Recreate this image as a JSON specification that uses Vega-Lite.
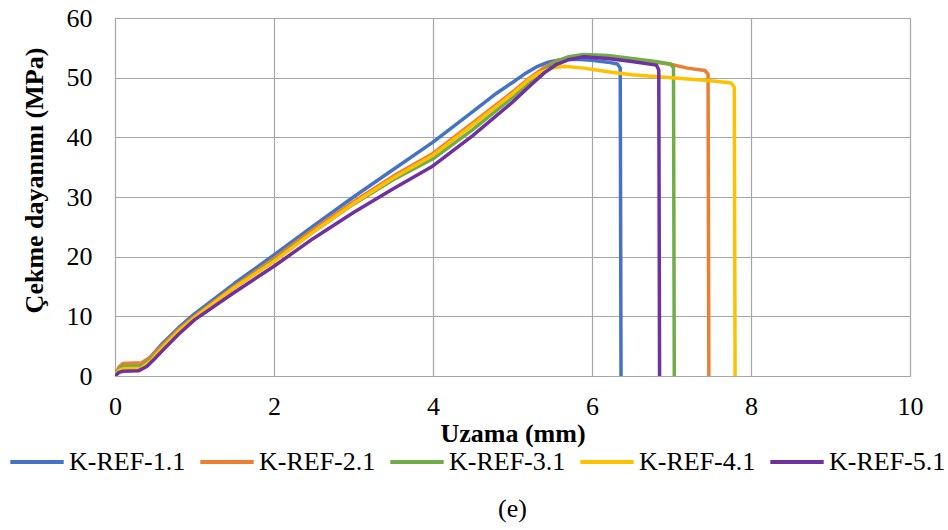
{
  "$schema": "https://vega.github.io/schema/vega-lite/v6.json",
  "width": 795,
  "height": 358,
  "autosize": {"type": "none"},
  "padding": {"left": 115, "top": 18, "right": 38, "bottom": 154},
  "background": "white",
  "title": {"text": "(e)", "orient": "bottom", "font": "Liberation Serif", "fontSize": 26, "fontWeight": "normal", "color": "#000000", "offset": 21, "anchor": "middle"},
  "config": {
    "view": {"stroke": "#A6A6A6", "strokeWidth": 1},
    "axis": {"labelFont": "Liberation Serif", "titleFont": "Liberation Serif", "labelFontSize": 26, "titleFontSize": 26, "labelColor": "#000000", "titleColor": "#000000", "gridColor": "#A6A6A6", "gridWidth": 1.2, "domainColor": "#A6A6A6", "ticks": false, "labelFlush": false, "labelOverlap": false}
  },
  "data": {"values": [
    {"s":"K-REF-1.1","x":0,"y":0},{"s":"K-REF-1.1","x":0.05,"y":1.0},{"s":"K-REF-1.1","x":0.1,"y":1.5},{"s":"K-REF-1.1","x":0.3,"y":1.6},{"s":"K-REF-1.1","x":0.4,"y":2.5},{"s":"K-REF-1.1","x":0.5,"y":4.0},{"s":"K-REF-1.1","x":0.6,"y":5.5},{"s":"K-REF-1.1","x":0.8,"y":8.1},{"s":"K-REF-1.1","x":1.0,"y":10.4},{"s":"K-REF-1.1","x":1.5,"y":15.5},{"s":"K-REF-1.1","x":2.0,"y":20.3},{"s":"K-REF-1.1","x":2.5,"y":25.2},{"s":"K-REF-1.1","x":3.0,"y":30.0},{"s":"K-REF-1.1","x":3.5,"y":34.6},{"s":"K-REF-1.1","x":4.0,"y":39.2},{"s":"K-REF-1.1","x":4.5,"y":44.3},{"s":"K-REF-1.1","x":4.8,"y":47.4},{"s":"K-REF-1.1","x":5.0,"y":49.2},{"s":"K-REF-1.1","x":5.15,"y":50.6},{"s":"K-REF-1.1","x":5.3,"y":51.8},{"s":"K-REF-1.1","x":5.45,"y":52.6},{"s":"K-REF-1.1","x":5.6,"y":53.0},{"s":"K-REF-1.1","x":5.8,"y":53.1},{"s":"K-REF-1.1","x":6.0,"y":52.9},{"s":"K-REF-1.1","x":6.2,"y":52.6},{"s":"K-REF-1.1","x":6.32,"y":52.3},{"s":"K-REF-1.1","x":6.355,"y":51.6},{"s":"K-REF-1.1","x":6.365,"y":0},
    {"s":"K-REF-2.1","x":0,"y":0},{"s":"K-REF-2.1","x":0.05,"y":1.5},{"s":"K-REF-2.1","x":0.1,"y":2.1},{"s":"K-REF-2.1","x":0.33,"y":2.2},{"s":"K-REF-2.1","x":0.45,"y":3.2},{"s":"K-REF-2.1","x":0.6,"y":5.2},{"s":"K-REF-2.1","x":0.8,"y":7.8},{"s":"K-REF-2.1","x":1.0,"y":10.0},{"s":"K-REF-2.1","x":1.5,"y":15.0},{"s":"K-REF-2.1","x":2.0,"y":19.7},{"s":"K-REF-2.1","x":2.5,"y":24.6},{"s":"K-REF-2.1","x":3.0,"y":29.2},{"s":"K-REF-2.1","x":3.5,"y":33.5},{"s":"K-REF-2.1","x":4.0,"y":37.3},{"s":"K-REF-2.1","x":4.5,"y":42.4},{"s":"K-REF-2.1","x":5.0,"y":47.6},{"s":"K-REF-2.1","x":5.2,"y":49.8},{"s":"K-REF-2.1","x":5.4,"y":51.7},{"s":"K-REF-2.1","x":5.55,"y":52.8},{"s":"K-REF-2.1","x":5.7,"y":53.4},{"s":"K-REF-2.1","x":5.9,"y":53.7},{"s":"K-REF-2.1","x":6.2,"y":53.4},{"s":"K-REF-2.1","x":6.5,"y":53.0},{"s":"K-REF-2.1","x":6.85,"y":52.5},{"s":"K-REF-2.1","x":7.0,"y":52.2},{"s":"K-REF-2.1","x":7.2,"y":51.6},{"s":"K-REF-2.1","x":7.42,"y":51.2},{"s":"K-REF-2.1","x":7.46,"y":50.6},{"s":"K-REF-2.1","x":7.47,"y":0},
    {"s":"K-REF-3.1","x":0,"y":0},{"s":"K-REF-3.1","x":0.05,"y":1.2},{"s":"K-REF-3.1","x":0.1,"y":1.6},{"s":"K-REF-3.1","x":0.33,"y":1.7},{"s":"K-REF-3.1","x":0.45,"y":2.8},{"s":"K-REF-3.1","x":0.6,"y":4.9},{"s":"K-REF-3.1","x":0.8,"y":7.6},{"s":"K-REF-3.1","x":1.0,"y":9.8},{"s":"K-REF-3.1","x":1.5,"y":14.8},{"s":"K-REF-3.1","x":2.0,"y":19.4},{"s":"K-REF-3.1","x":2.5,"y":24.2},{"s":"K-REF-3.1","x":3.0,"y":28.8},{"s":"K-REF-3.1","x":3.5,"y":32.9},{"s":"K-REF-3.1","x":4.0,"y":36.4},{"s":"K-REF-3.1","x":4.5,"y":41.3},{"s":"K-REF-3.1","x":5.0,"y":46.7},{"s":"K-REF-3.1","x":5.2,"y":49.0},{"s":"K-REF-3.1","x":5.4,"y":51.3},{"s":"K-REF-3.1","x":5.55,"y":52.7},{"s":"K-REF-3.1","x":5.7,"y":53.5},{"s":"K-REF-3.1","x":5.9,"y":53.9},{"s":"K-REF-3.1","x":6.2,"y":53.7},{"s":"K-REF-3.1","x":6.5,"y":53.2},{"s":"K-REF-3.1","x":6.8,"y":52.7},{"s":"K-REF-3.1","x":6.99,"y":52.3},{"s":"K-REF-3.1","x":7.025,"y":51.6},{"s":"K-REF-3.1","x":7.035,"y":0},
    {"s":"K-REF-4.1","x":0,"y":0},{"s":"K-REF-4.1","x":0.05,"y":0.9},{"s":"K-REF-4.1","x":0.1,"y":1.2},{"s":"K-REF-4.1","x":0.33,"y":1.3},{"s":"K-REF-4.1","x":0.45,"y":2.5},{"s":"K-REF-4.1","x":0.6,"y":4.8},{"s":"K-REF-4.1","x":0.8,"y":7.5},{"s":"K-REF-4.1","x":1.0,"y":9.8},{"s":"K-REF-4.1","x":1.5,"y":14.8},{"s":"K-REF-4.1","x":2.0,"y":19.2},{"s":"K-REF-4.1","x":2.5,"y":24.2},{"s":"K-REF-4.1","x":3.0,"y":28.9},{"s":"K-REF-4.1","x":3.5,"y":33.2},{"s":"K-REF-4.1","x":4.0,"y":37.0},{"s":"K-REF-4.1","x":4.5,"y":42.1},{"s":"K-REF-4.1","x":5.0,"y":47.3},{"s":"K-REF-4.1","x":5.2,"y":49.6},{"s":"K-REF-4.1","x":5.35,"y":50.9},{"s":"K-REF-4.1","x":5.5,"y":51.6},{"s":"K-REF-4.1","x":5.65,"y":51.9},{"s":"K-REF-4.1","x":5.9,"y":51.6},{"s":"K-REF-4.1","x":6.2,"y":51.0},{"s":"K-REF-4.1","x":6.5,"y":50.5},{"s":"K-REF-4.1","x":7.0,"y":50.0},{"s":"K-REF-4.1","x":7.5,"y":49.5},{"s":"K-REF-4.1","x":7.75,"y":49.1},{"s":"K-REF-4.1","x":7.79,"y":48.4},{"s":"K-REF-4.1","x":7.8,"y":0},
    {"s":"K-REF-5.1","x":0,"y":0},{"s":"K-REF-5.1","x":0.05,"y":0.6},{"s":"K-REF-5.1","x":0.1,"y":0.8},{"s":"K-REF-5.1","x":0.3,"y":0.9},{"s":"K-REF-5.1","x":0.4,"y":1.6},{"s":"K-REF-5.1","x":0.5,"y":2.9},{"s":"K-REF-5.1","x":0.6,"y":4.3},{"s":"K-REF-5.1","x":0.8,"y":7.0},{"s":"K-REF-5.1","x":1.0,"y":9.4},{"s":"K-REF-5.1","x":1.5,"y":14.0},{"s":"K-REF-5.1","x":2.0,"y":18.4},{"s":"K-REF-5.1","x":2.5,"y":23.1},{"s":"K-REF-5.1","x":3.0,"y":27.4},{"s":"K-REF-5.1","x":3.5,"y":31.4},{"s":"K-REF-5.1","x":4.0,"y":35.2},{"s":"K-REF-5.1","x":4.5,"y":40.3},{"s":"K-REF-5.1","x":5.0,"y":45.9},{"s":"K-REF-5.1","x":5.2,"y":48.4},{"s":"K-REF-5.1","x":5.4,"y":50.8},{"s":"K-REF-5.1","x":5.55,"y":52.2},{"s":"K-REF-5.1","x":5.7,"y":53.0},{"s":"K-REF-5.1","x":5.9,"y":53.5},{"s":"K-REF-5.1","x":6.2,"y":53.2},{"s":"K-REF-5.1","x":6.5,"y":52.7},{"s":"K-REF-5.1","x":6.81,"y":52.1},{"s":"K-REF-5.1","x":6.84,"y":51.3},{"s":"K-REF-5.1","x":6.85,"y":0}
  ]},
  "mark": {"type": "line", "strokeWidth": 3.5, "strokeCap": "round", "strokeJoin": "round", "clip": true},
  "encoding": {
    "x": {"field": "x", "type": "quantitative", "title": "Uzama (mm)",
      "scale": {"domain": [0, 10], "nice": false, "zero": true},
      "axis": {"values": [0, 2, 4, 6, 8, 10], "labelPadding": 17, "titlePadding": 1, "titleFontWeight": "bold", "format": "d", "domain": true}},
    "y": {"field": "y", "type": "quantitative", "title": "Çekme dayanımı (MPa)",
      "scale": {"domain": [0, 60], "nice": false},
      "axis": {"values": [0, 10, 20, 30, 40, 50, 60], "labelPadding": 23, "titlePadding": 19, "titleY": 162, "titleFontWeight": "bold", "domain": true}},
    "color": {"field": "s", "type": "nominal",
      "scale": {"domain": ["K-REF-1.1", "K-REF-2.1", "K-REF-3.1", "K-REF-4.1", "K-REF-5.1"], "range": ["#4472C4", "#ED7D31", "#70AD47", "#FFC000", "#7030A0"]},
      "legend": {"title": null, "orient": "none", "legendX": -107, "legendY": 415, "direction": "horizontal", "columns": 5, "symbolType": "stroke", "symbolSize": 2850, "symbolStrokeWidth": 4, "labelFont": "Liberation Serif", "labelFontSize": 26, "labelColor": "#000000", "labelOffset": 3, "columnPadding": 6, "labelLimit": 300}
    }
  }
}
